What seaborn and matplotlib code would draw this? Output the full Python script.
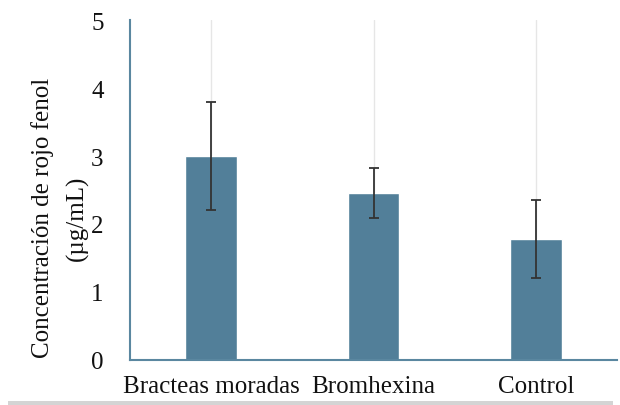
import matplotlib
matplotlib.use("Agg")
import matplotlib.pyplot as plt
from matplotlib.patches import Rectangle
import seaborn as sns
import pandas as pd

categories = ["Bracteas moradas", "Bromhexina", "Control"]
values = [3.0, 2.46, 1.78]
errors = [0.80, 0.37, 0.58]
yticks = [0, 1, 2, 3, 4, 5]

sns.set_theme(style="white")
plt.rcParams['font.family'] = ['Liberation Serif', 'DejaVu Serif']
plt.rcParams['text.color'] = "#111111"
plt.rcParams['axes.labelcolor'] = "#111111"
plt.rcParams['xtick.color'] = "#111111"
plt.rcParams['ytick.color'] = "#111111"

df = pd.DataFrame({"cat": categories, "val": values, "err": errors})

fig = plt.figure(figsize=(6.2, 4.06), dpi=100)
ax = fig.add_axes([130/620, 1 - 361/406, (617-130)/620, (361-21)/406])

for i in range(len(categories)):
    ax.axvline(i, ymin=0, ymax=1, color="#e6e6e6", lw=1, zorder=0)

sns.barplot(data=df, x="cat", y="val", color="#527f99", saturation=1,
            width=0.32, ax=ax, zorder=2, errorbar=None)
ax.errorbar(range(len(categories)), df["val"], yerr=df["err"], fmt="none",
            ecolor="#333333", elinewidth=1.3, capsize=3.5, capthick=1.3, zorder=3)

ax.set_xlim(-0.5, 2.5)
ax.set_ylim(0, 5)
ax.set_yticks(yticks)
ax.set_yticklabels([str(t) for t in yticks], fontsize=18)
ax.tick_params(axis="x", labelsize=18, length=0, pad=11)
ax.tick_params(axis="y", length=0, pad=19)
ax.set_xlabel("")
ax.set_ylabel("Concentración de rojo fenol\n(µg/mL)", fontsize=18,
              linespacing=1.65)
ax.yaxis.set_label_coords(-0.085, 0.42)
for s in ["top", "right"]:
    ax.spines[s].set_visible(False)
for s in ["left", "bottom"]:
    ax.spines[s].set_color("#5a87a0")
    ax.spines[s].set_linewidth(1.5)

fig.add_artist(Rectangle((8/620, 0), (613-8)/620, 4/406, transform=fig.transFigure,
                         facecolor="#d4d4d4", edgecolor="none"))

fig.savefig("out.png", dpi=100)
